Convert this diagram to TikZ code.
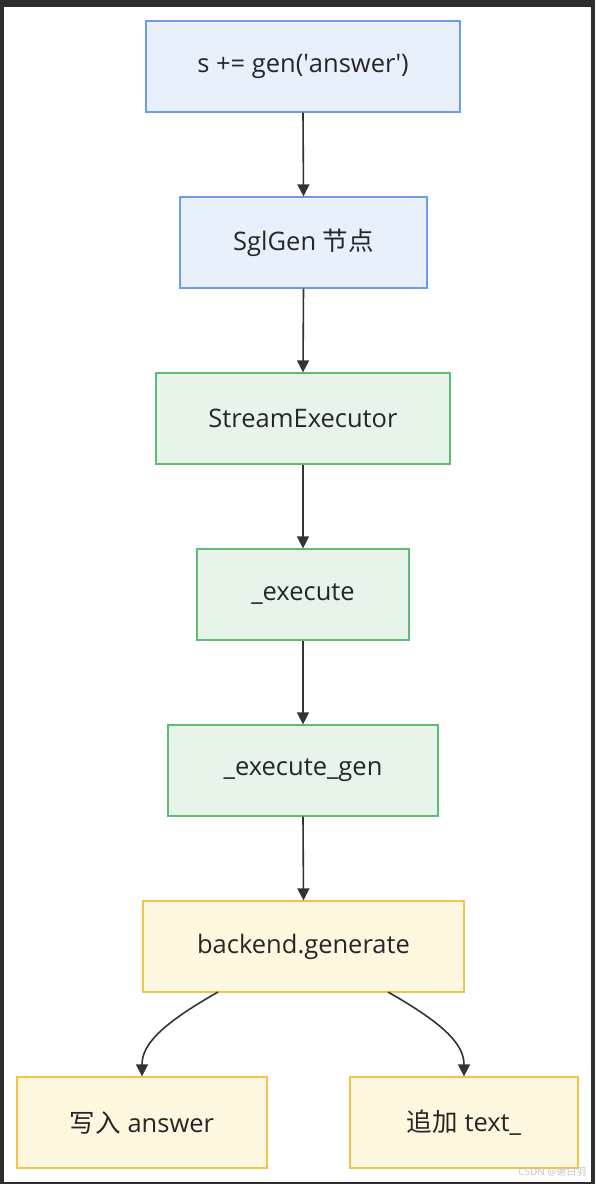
\documentclass[tikz,border=0pt]{standalone}
\usepackage{fontspec}
\setmainfont{Open Sans}
\newfontfamily\cjk{Noto Sans CJK SC}
\usetikzlibrary{arrows.meta}
\definecolor{frame}{HTML}{2E2E2E}
\definecolor{bfill}{HTML}{E8F0FC}
\definecolor{bdraw}{HTML}{6C9BE8}
\definecolor{gfill}{HTML}{E6F4EA}
\definecolor{gdraw}{HTML}{5DBB74}
\definecolor{yfill}{HTML}{FEF7E0}
\definecolor{ydraw}{HTML}{F6C24A}
\definecolor{edge}{HTML}{333333}
\definecolor{wm}{HTML}{C4C4C4}
\tikzset{
  box/.style={draw, line width=1.3pt, inner sep=0pt, font=\fontsize{25.5}{30}\selectfont, text=black!85},
  bluebox/.style={box, fill=bfill, draw=bdraw},
  greenbox/.style={box, fill=gfill, draw=gdraw},
  yellowbox/.style={box, fill=yfill, draw=ydraw},
  conn/.style={draw=edge, line width=1.6pt, -{Triangle[length=12pt,width=12pt]}},
}
\begin{document}
\begin{tikzpicture}[x=1pt,y=-1pt]
\fill[frame] (0,0) rectangle (595,1184);
\fill[white] (4,7) rectangle (591,1182);
\useasboundingbox (0,0) rectangle (595,1184);
% nodes
\node[bluebox, minimum width=314pt, minimum height=91pt] (n1) at (303,66.5) {s += gen(\textquotesingle answer\textquotesingle)};
\node[bluebox, minimum width=247pt, minimum height=91pt] (n2) at (303.5,242.5) {SglGen {\cjk 节点}};
\node[greenbox, minimum width=294pt, minimum height=91pt] (n3) at (303,418.5) {StreamExecutor};
\node[greenbox, minimum width=212pt, minimum height=91pt] (n4) at (303,594.5) {\_execute};
\node[greenbox, minimum width=270pt, minimum height=91pt] (n5) at (303,770.5) {\_execute\_gen};
\node[yellowbox, minimum width=321pt, minimum height=91pt] (n6) at (303.5,946.5) {backend.generate};
\node[yellowbox, minimum width=250pt, minimum height=91pt] (n7) at (142,1122.5) {{\cjk 写入} answer};
\node[yellowbox, minimum width=228pt, minimum height=91pt] (n8) at (464,1122.5) {{\cjk 追加} text\_};
% connectors
\draw[conn] (n1.south) -- (n2.north);
\draw[conn] (n2.south) -- (n3.north);
\draw[conn] (n3.south) -- (n4.north);
\draw[conn] (n4.south) -- (n5.north);
\draw[conn] (n5.south) -- (n6.north);
\coordinate (l0) at (218,992);
\coordinate (r0) at (388,992);
\draw[conn] (l0) .. controls (160,1025) and (142,1045) .. (n7.north);
\draw[conn] (r0) .. controls (446,1025) and (464,1045) .. (n8.north);
% watermark
\node[text=wm, font=\fontsize{10}{12}\selectfont, anchor=east] (wmk) at (590,1172) {CSDN @{\cjk 谢白羽}};
\end{tikzpicture}
\end{document}
